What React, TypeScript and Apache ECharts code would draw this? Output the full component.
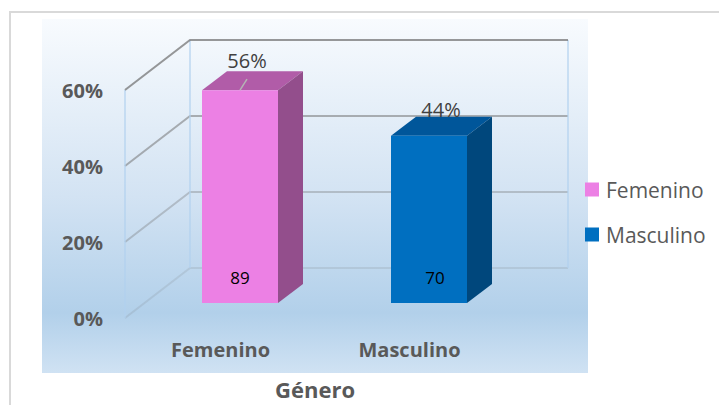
import React, { useEffect, useRef } from "react";
import * as echarts from "echarts";

const categories = ["Femenino", "Masculino"];
const yTicks = [0, 20, 40, 60];
const femeninoValues = [[0, 56, 89]];
const masculinoValues = [[1, 44, 70]];

const FONT = "'Open Sans', 'Noto Sans', sans-serif";
const DEPTH_X = 65;
const DEPTH_Y = -50;
const BAR_START = 0.3;
const BAR_DEPTH_X = 25;
const BAR_DEPTH_Y = -19;
const BAR_W = 76;

function wallItem(params: any, api: any) {
  const v = api.value(1);
  const band = api.size([1, 0])[0];
  const c = api.coord([0, v]);
  const x0 = c[0] - band / 2;
  const y = c[1];
  const alpha = 0.15 + (v / 60) * 0.55;
  const color = `rgba(110,110,110,${alpha})`;
  const children: any[] = [
    {
      type: "polyline",
      shape: { points: [[x0 - 1, y], [x0 + DEPTH_X - 1, y + DEPTH_Y], [x0 + DEPTH_X + band * 2 - 1, y + DEPTH_Y]] },
      style: { stroke: color, lineWidth: 2, fill: "none" },
    },
  ];
  if (v === 60) {
    const zero = api.coord([0, 0])[1];
    const wall = "rgba(176,208,238,0.6)";
    children.unshift(
      { type: "line", shape: { x1: x0 - 1, y1: y, x2: x0 - 1, y2: zero }, style: { stroke: wall, lineWidth: 2 } },
      { type: "line", shape: { x1: x0 + DEPTH_X - 1, y1: y + DEPTH_Y, x2: x0 + DEPTH_X - 1, y2: zero + DEPTH_Y }, style: { stroke: wall, lineWidth: 2 } },
      { type: "line", shape: { x1: x0 + DEPTH_X + band * 2 - 1, y1: y + DEPTH_Y, x2: x0 + DEPTH_X + band * 2 - 1, y2: zero + DEPTH_Y }, style: { stroke: wall, lineWidth: 2 } },
    );
  }
  return { type: "group", children };
}

function barRenderer(front: string, top: string, side: string, pctDx: number, pctDy: number, countDx: number, leader: boolean) {
  return (params: any, api: any) => {
    const idx = api.value(0);
    const val = api.value(1);
    const count = api.value(2);
    const ox = BAR_START * DEPTH_X;
    const oy = BAR_START * DEPTH_Y;
    const t = api.coord([idx, val]);
    const b = api.coord([idx, 0]);
    const xl = t[0] + ox - BAR_W / 2;
    const xr = xl + BAR_W;
    const yt = t[1] + oy;
    const yb = b[1] + oy;
    const dx = BAR_DEPTH_X;
    const dy = BAR_DEPTH_Y;
    const children: any[] = [
      { type: "polygon", shape: { points: [[xl, yt], [xr, yt], [xr + dx, yt + dy], [xl + dx, yt + dy]] }, style: { fill: top } },
      { type: "polygon", shape: { points: [[xr, yt], [xr + dx, yt + dy], [xr + dx, yb + dy], [xr, yb]] }, style: { fill: side } },
      { type: "rect", shape: { x: xl, y: yt, width: BAR_W, height: yb - yt }, style: { fill: front } },
    ];
    if (leader) {
      children.push({ type: "line", shape: { x1: xl + BAR_W / 2, y1: yt, x2: xl + BAR_W / 2 + 7, y2: yt - 11 }, style: { stroke: "#b5b5b5", lineWidth: 1.5 } });
    }
    children.push(
      { type: "text", style: { text: `${val}%`, x: xl + BAR_W / 2 + pctDx, y: yt + pctDy, align: "center", verticalAlign: "middle", fill: "#404040", font: `20px ${FONT}` } },
      { type: "text", style: { text: `${count}`, x: xl + BAR_W / 2 + countDx, y: 277, align: "center", verticalAlign: "middle", fill: "#000000", font: `17px ${FONT}` } },
    );
    return { type: "group", children };
  };
}

export default function App() {
  const ref = useRef<HTMLDivElement>(null);
  useEffect(() => {
    const chart = echarts.init(ref.current!, null, { renderer: "svg" });
    chart.setOption({
      animation: false,
      backgroundColor: "#ffffff",
      graphic: [
        {
          type: "rect",
          z: -10,
          shape: { x: 42, y: 19, width: 546, height: 354 },
          style: {
            fill: new echarts.graphic.LinearGradient(0, 0, 0, 1, [
              { offset: 0, color: "#f8fbfe" },
              { offset: 0.5, color: "#d3e3f3" },
              { offset: 0.83, color: "#b2d0ea" },
              { offset: 1, color: "#d0e2f3" },
            ]),
          },
        },
        {
          type: "polyline",
          z: -10,
          shape: { points: [[10, 405], [10, 12], [719, 12]] },
          style: { stroke: "#d9d9d9", lineWidth: 2, fill: "none" },
        },
      ],
      legend: {
        data: categories,
        orient: "vertical",
        left: 580,
        top: 174,
        itemWidth: 14,
        itemHeight: 14,
        itemGap: 24,
        icon: "rect",
        textStyle: { color: "#595959", fontSize: 21, fontFamily: FONT, padding: [0, 0, 0, 2] },
      },
      grid: { left: 126, top: 90, width: 378, height: 229 },
      xAxis: {
        type: "category",
        data: categories,
        axisLine: { show: false },
        axisTick: { show: false },
        axisLabel: { color: "#595959", fontSize: 20, fontWeight: "bold", fontFamily: FONT, margin: 21 },
        name: "Género",
        nameLocation: "middle",
        nameGap: 60,
        nameTextStyle: { color: "#595959", fontSize: 22, fontWeight: "bold", fontFamily: FONT },
      },
      yAxis: {
        type: "value",
        min: 0,
        max: 60,
        interval: 20,
        splitLine: { show: false },
        axisLine: { show: false },
        axisTick: { show: false },
        axisLabel: { formatter: "{value}%", color: "#595959", fontSize: 20, fontWeight: "bold", fontFamily: FONT, margin: 23 },
      },
      series: [
        {
          type: "custom",
          name: "walls",
          coordinateSystem: "cartesian2d",
          clip: false,
          silent: true,
          data: yTicks.map((v) => [0, v]),
          encode: { x: 0, y: 1 },
          renderItem: wallItem,
          z: 1,
        },
        {
          type: "custom",
          name: categories[0],
          clip: false,
          data: femeninoValues,
          encode: { x: 0, y: 1 },
          itemStyle: { color: "#ec80e4" },
          renderItem: barRenderer("#ec80e4", "#b15ca8", "#934e8c", 7, -30, 0, true),
          z: 2,
        },
        {
          type: "custom",
          name: categories[1],
          clip: false,
          data: masculinoValues,
          encode: { x: 0, y: 1 },
          itemStyle: { color: "#006fc0" },
          renderItem: barRenderer("#006fc0", "#00569a", "#00477c", 12, -26, 6, false),
          z: 2,
        },
      ],
    });
    return () => chart.dispose();
  }, []);
  return <div ref={ref} style={{ position: "fixed", left: 0, top: 0, width: 719, height: 405 }} />;
}
